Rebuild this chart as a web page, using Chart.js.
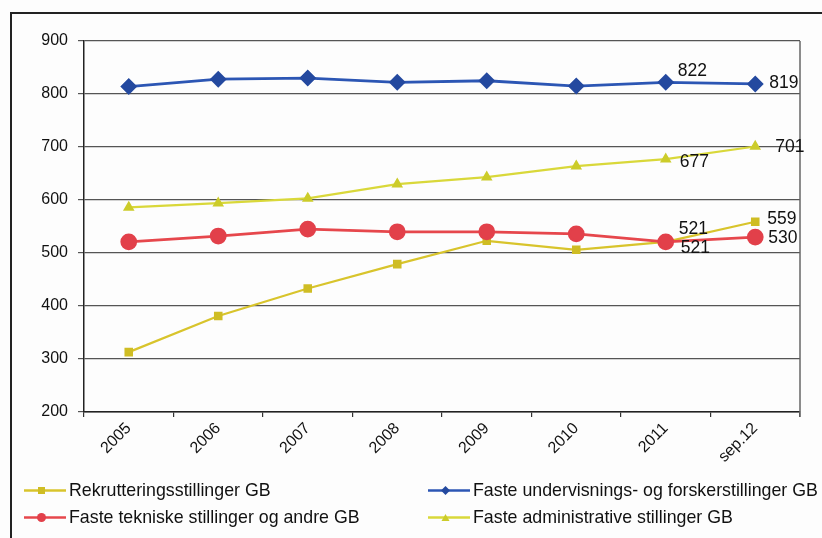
<!DOCTYPE html>
<html>
<head>
<meta charset="utf-8">
<script src="https://cdn.jsdelivr.net/npm/chart.js@4/dist/chart.umd.min.js"></script>
<style>
  html, body { margin: 0; padding: 0; background: #ffffff; }
  #wrap { position: relative; width: 822px; height: 538px; overflow: hidden; background: #fdfdfd; }
  #frame { position: absolute; left: 10px; top: 12px; width: 830px; height: 540px; border: 2px solid #222; box-sizing: border-box; }
  canvas { position: absolute; left: 0; top: 0; }
  .lg { position: absolute; font-family: "Liberation Sans", Arial, sans-serif; font-size: 17.8px; color: #111; white-space: nowrap; line-height: 18px; }
  .lg svg { position: absolute; left: 0; top: 0; }
  .lg span { position: absolute; top: 0; }
</style>
</head>
<body>
<div id="wrap">
  <div id="frame"></div>
  <canvas id="c" width="822" height="538"></canvas>
  <div id="legend"></div>
</div>
<script>
const categories = ['2005', '2006', '2007', '2008', '2009', '2010', '2011', 'sep.12'];
const seriesNames = [
  'Rekrutteringsstillinger GB',
  'Faste undervisnings- og forskerstillinger GB',
  'Faste tekniske stillinger og andre GB',
  'Faste administrative stillinger GB'
];
const rekruttering = [313, 381, 433, 479, 523, 506, 521, 559];
const undervisning = [814, 828, 830, 822, 825, 815, 822, 819];
const tekniske = [521, 532, 545, 540, 540, 536, 521, 530];
const administrative = [586, 594, 603, 630, 643, 664, 677, 701];
const yTicks = [200, 300, 400, 500, 600, 700, 800, 900];

const colors = ['#d8c42c', '#2c56b4', '#e6474c', '#d9d83a'];
const markerColors = ['#cfbd24', '#24499f', '#e2404a', '#cccc2a'];
const styles = ['rect', 'rectRot', 'circle', 'triangle'];
const radii = [4.5, 6.5, 7, 4.5];
const widths = [2.2, 2.8, 2.8, 2.2];
const allData = [rekruttering, undervisning, tekniske, administrative];

// labels: [datasetIndex, pointIndex, dx, dy]
const labelPlacements = [
  [1, 6, 12, -11], [1, 7, 14, -1],
  [3, 6, 14, 3], [3, 7, 20, 1],
  [0, 6, 13, -13], [2, 6, 15, 6],
  [0, 7, 12, -3], [2, 7, 13, 1]
];

const labelPlugin = {
  id: 'pointLabels',
  afterDatasetsDraw(chart) {
    const ctx = chart.ctx;
    ctx.save();
    ctx.font = '17.5px "Liberation Sans", Arial, sans-serif';
    ctx.fillStyle = '#111';
    ctx.textAlign = 'left';
    ctx.textBaseline = 'middle';
    labelPlacements.forEach(([d, i, dx, dy]) => {
      const pt = chart.getDatasetMeta(d).data[i];
      ctx.fillText(String(allData[d][i]), pt.x + dx, pt.y + dy);
    });
    ctx.restore();
  }
};

const borderPlugin = {
  id: 'areaBorder',
  beforeDatasetsDraw(chart) {
    const a = chart.chartArea, ctx = chart.ctx;
    ctx.save();
    ctx.strokeStyle = '#666';
    ctx.lineWidth = 1.5;
    ctx.beginPath();
    ctx.moveTo(a.right, a.top);
    ctx.lineTo(a.right, a.bottom + 5);
    ctx.stroke();
    ctx.restore();
  }
};

new Chart(document.getElementById('c'), {
  type: 'line',
  data: {
    labels: categories,
    datasets: allData.map((d, k) => ({
      label: seriesNames[k],
      data: d,
      borderColor: colors[k],
      backgroundColor: markerColors[k],
      pointBackgroundColor: markerColors[k],
      pointBorderColor: markerColors[k],
      pointStyle: styles[k],
      pointRadius: radii[k],
      borderWidth: widths[k],
      tension: 0,
      order: [3, 0, 1, 2][k]
    }))
  },
  options: {
    responsive: false,
    animation: false,
    events: [],
    layout: { padding: { left: 0, top: 41, right: 22, bottom: 0 } },
    plugins: { legend: { display: false }, tooltip: { enabled: false } },
    scales: {
      x: {
        offset: true,
        grid: { display: true, drawOnChartArea: false, offset: true, tickLength: 5, color: '#333', lineWidth: 1.2 },
        border: { color: '#222', width: 1.5 },
        ticks: {
          minRotation: 45, maxRotation: 45, padding: 2,
          color: '#111',
          font: { family: '"Liberation Sans", Arial, sans-serif', size: 16 }
        },
        afterFit(s) { s.height = 538 - 412; }
      },
      y: {
        min: 200, max: 900,
        afterBuildTicks(s) { s.ticks = yTicks.map(v => ({ value: v })); },
        grid: { color: '#555', lineWidth: 1.2, tickLength: 6, drawTicks: true },
        border: { color: '#222', width: 1.5 },
        ticks: {
          padding: 10, color: '#111',
          font: { family: '"Liberation Sans", Arial, sans-serif', size: 16 }
        },
        afterFit(s) { s.width = 84; }
      }
    }
  },
  plugins: [labelPlugin, borderPlugin]
});

// HTML legend built from series
const legendPos = [[20, 481], [424, 481], [20, 508], [424, 508]];
const legend = document.getElementById('legend');
seriesNames.forEach((name, k) => {
  const el = document.createElement('div');
  el.className = 'lg';
  el.style.left = legendPos[k][0] + 'px';
  el.style.top = legendPos[k][1] + 'px';
  el.style.width = '400px';
  el.style.height = '20px';
  let marker = '';
  const c = markerColors[k];
  if (styles[k] === 'rect') marker = `<rect x="18" y="6" width="7" height="7" fill="${c}"/>`;
  if (styles[k] === 'rectRot') marker = `<polygon points="21.5,5 26,9.5 21.5,14 17,9.5" fill="${c}"/>`;
  if (styles[k] === 'circle') marker = `<circle cx="21.5" cy="9.5" r="4.5" fill="${c}"/>`;
  if (styles[k] === 'triangle') marker = `<polygon points="21.5,6 25.5,13 17.5,13" fill="${c}"/>`;
  el.innerHTML = `<svg width="48" height="20"><line x1="4" y1="9.5" x2="46" y2="9.5" stroke="${colors[k]}" stroke-width="2.5"/>${marker}</svg><span style="left:49px">${name}</span>`;
  legend.appendChild(el);
});
</script>
</body>
</html>
